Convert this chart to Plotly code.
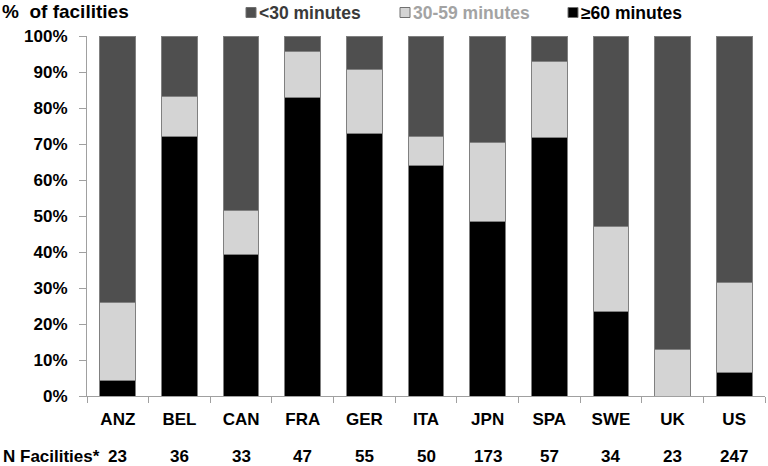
import plotly.graph_objects as go

countries = ["ANZ", "BEL", "CAN", "FRA", "GER", "ITA", "JPN", "SPA", "SWE", "UK", "US"]
n_facilities = [23, 36, 33, 47, 55, 50, 173, 57, 34, 23, 247]
ge60 = [4.4, 72.1, 39.4, 82.9, 72.8, 64.0, 48.5, 71.9, 23.5, 0.0, 6.6]
m30_59 = [21.5, 11.0, 12.1, 12.7, 17.8, 8.0, 21.9, 21.0, 23.5, 12.9, 25.0]
lt30 = [round(100 - a - b, 1) for a, b in zip(ge60, m30_59)]

series_names = ["<30 minutes", "30-59 minutes", "≥60 minutes"]
fill_colors = ["#4f4f4f", "#d4d4d4", "#000000"]
legend_text_colors = ["#3a3a3a", "#a3a3a3", "#000000"]

FONT = "Liberation Sans, Arial, sans-serif"
outline = dict(color="#808080", width=1)

# plot area in pixels
L, R, T, B = 87, 765, 36, 396
W, H = R - L, B - T
def px(x):
    return (x - L) / W
def py(y):
    return (B - y) / H

fig = go.Figure()
for vals, name, col in [(ge60, series_names[2], fill_colors[2]),
                        (m30_59, series_names[1], fill_colors[1]),
                        (lt30, series_names[0], fill_colors[0])]:
    fig.add_trace(go.Bar(x=countries, y=vals, name=name,
                         marker=dict(color=col, line=outline), showlegend=False))

annotations = [dict(text="<b>%&nbsp;&nbsp;of facilities</b>", xref="paper", yref="paper",
                    x=px(0), y=py(11), xanchor="left", yanchor="middle", showarrow=False,
                    font=dict(size=19, family=FONT, color="#000"))]
annotations.append(dict(text="<b>N Facilities*</b>", xref="paper", yref="paper", x=px(1),
                        y=py(456), xanchor="left", yanchor="middle", showarrow=False,
                        font=dict(size=17, family=FONT, color="#000")))
for c, n in zip(countries, n_facilities):
    annotations.append(dict(text=f"<b>{n}</b>", xref="x", yref="paper", x=c, y=py(456),
                            xanchor="center", yanchor="middle", showarrow=False,
                            font=dict(size=17, family=FONT, color="#000")))

# custom legend
sq_x = [246, 400, 568]
shapes = []
for i, (name, fc, tc) in enumerate(zip(series_names, fill_colors, legend_text_colors)):
    x0 = sq_x[i]
    shapes.append(dict(type="rect", xref="paper", yref="paper",
                       x0=px(x0), x1=px(x0 + 10), y0=py(17.5), y1=py(7.5),
                       fillcolor=fc, line=dict(color="#707070", width=1)))
    annotations.append(dict(text="<b>" + name.replace("<", "&lt;") + "</b>", xref="paper",
                            yref="paper", x=px(x0 + 11), y=py(12.5), xanchor="left",
                            yanchor="middle", showarrow=False,
                            font=dict(size=17.5, family=FONT, color=tc)))

fig.update_layout(
    barmode="stack",
    bargap=0.42,
    width=768, height=466,
    margin=dict(l=L, r=768 - R, t=T, b=466 - B, autoexpand=False),
    paper_bgcolor="white", plot_bgcolor="white",
    font=dict(family=FONT, size=17, color="#000"),
    annotations=annotations,
    shapes=shapes,
    showlegend=False,
)
fig.update_yaxes(range=[0, 100], dtick=10, ticksuffix="%", showgrid=False, zeroline=False,
                 showline=True, linecolor="#a0a0a0", linewidth=1,
                 ticks="outside", ticklen=7, tickcolor="#a0a0a0", ticklabelstandoff=8,
                 tickfont=dict(size=17, family=FONT, color="#000", weight="bold"))
fig.update_xaxes(showline=True, linecolor="#a0a0a0", linewidth=1, showgrid=False,
                 ticks="outside", ticklen=6, tickcolor="#a0a0a0", tickson="boundaries",
                 ticklabelstandoff=8,
                 tickfont=dict(size=17, family=FONT, color="#000", weight="bold"))

fig.write_html("out.html", config={"displayModeBar": False},
               post_script="document.body.style.margin='0';document.body.style.overflow='hidden';")
